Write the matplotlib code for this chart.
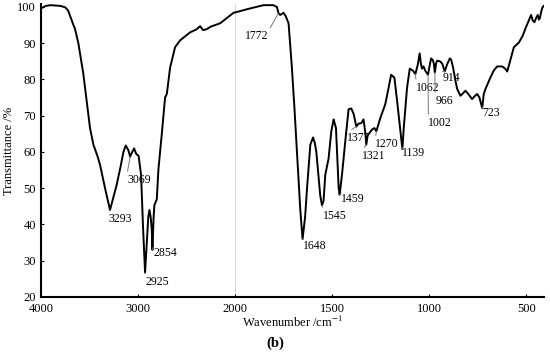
import numpy as np
import matplotlib
matplotlib.use('Agg')
import matplotlib.pyplot as plt

# FTIR spectrum
wavenumber = [4000, 3950, 3900, 3850, 3800, 3750, 3720, 3700, 3684, 3670, 3650, 3615,
              3564, 3529, 3495, 3460, 3420, 3392, 3340, 3289, 3250, 3220, 3180, 3151,
              3127, 3100, 3082, 3060, 3041, 3020, 3013, 2995, 2969, 2950, 2928, 2910,
              2895, 2883, 2870, 2859, 2852, 2840, 2832, 2807, 2790, 2756, 2722, 2704,
              2690, 2670, 2619, 2567, 2464, 2400, 2361, 2350, 2330, 2292, 2250, 2155,
              2017, 2000, 1923, 1854, 1803, 1785, 1777, 1768, 1751, 1740, 1725, 1708,
              1696, 1682, 1665, 1653, 1640, 1630, 1613, 1599, 1590, 1582, 1562, 1553,
              1545, 1536, 1519, 1505, 1493, 1481, 1467, 1462, 1450, 1433, 1416, 1402,
              1390, 1376, 1365, 1350, 1339, 1329, 1325, 1318, 1313, 1295, 1283, 1273,
              1253, 1227, 1210, 1197, 1180, 1166, 1149, 1139, 1132, 1115, 1101, 1084,
              1072, 1060, 1050, 1044, 1038, 1030, 1021, 1007, 998, 991, 982, 977,
              972, 965, 960, 945, 934, 921, 910, 895, 888, 878, 867, 857,
              840, 825, 814, 800, 780, 765, 754, 742, 728, 720, 711, 686,
              668, 651, 625, 610, 599, 585, 565, 539, 520, 505, 476, 468,
              459, 450, 442, 436, 431, 425, 419, 412]
transmittance = [99.6, 100.3, 100.5, 100.4, 100.3, 99.9, 99.0, 97.5, 96.4, 95.3, 94.0, 90.0,
                 81.6, 74.0, 66.6, 62.0, 59.0, 56.5, 50.0, 44.0, 48.0, 51.0, 56.0, 60.0,
                 61.8, 60.5, 58.7, 60.0, 61.0, 59.5, 59.3, 59.0, 53.7, 40.0, 26.7, 35.0,
                 42.0, 44.0, 42.0, 38.7, 33.0, 42.0, 45.3, 47.0, 55.4, 64.9, 75.0, 76.0,
                 79.0, 83.3, 88.9, 90.8, 93.0, 93.8, 94.7, 94.3, 93.6, 93.9, 94.6, 95.5,
                 98.4, 98.5, 99.6, 100.5, 100.5, 100.0, 98.3, 97.8, 98.4, 97.5, 95.5, 83.3,
                 73.2, 60.0, 44.3, 36.0, 42.0, 50.0, 62.0, 64.0, 62.5, 60.0, 48.0, 45.3,
                 46.5, 53.7, 58.2, 65.7, 69.0, 66.6, 50.0, 48.2, 53.7, 63.0, 71.8, 72.0,
                 70.5, 67.0, 67.8, 68.0, 69.0, 64.9, 62.0, 64.5, 64.9, 66.2, 66.6, 65.7,
                 69.3, 73.2, 77.7, 81.3, 80.5, 74.0, 65.7, 60.8, 66.6, 77.7, 83.0, 82.4,
                 81.5, 84.0, 87.2, 84.5, 83.0, 83.6, 82.4, 81.3, 84.0, 85.8, 85.3, 84.4,
                 81.9, 84.5, 85.2, 85.0, 84.4, 82.2, 84.0, 85.8, 85.5, 83.3, 80.0, 77.4,
                 75.5, 76.3, 76.9, 76.0, 74.6, 75.5, 76.0, 75.0, 72.1, 76.0, 77.4, 80.5,
                 82.5, 83.6, 83.6, 83.0, 82.2, 85.0, 88.9, 90.2, 92.0, 94.1, 97.8, 96.3,
                 95.8, 97.0, 97.8, 96.5, 96.9, 98.5, 99.7, 100.3]

peak_labels = [3293, 3069, 2925, 2854, 1772, 1648, 1545, 1459, 1377, 1321,
               1270, 1139, 1062, 1002, 966, 914, 723]
# where each label's text sits (left edge wavenumber, centre transmittance)
label_pos = [(3309, 41.5), (3113, 52.3), (2928, 24.2), (2845, 32.0), (1948, 91.9),
             (1649, 34.2), (1546, 42.3), (1454, 47.0), (1423, 63.8), (1345, 58.8),
             (1278, 62.1), (1139, 59.6), (1068, 77.7), (1005, 68.0), (969, 74.1),
             (933, 80.5), (727, 70.7)]
label_at = [3289, 3082, 2928, 2852, 1777, 1653, 1553, 1462, 1376, 1325,
            1273, 1139, 1072, 1007, 972, 921, 728]

xticks = [4000, 3000, 2000, 1500, 1000, 500]
yticks = [20, 30, 40, 50, 60, 70, 80, 90, 100]


def fwd(w):
    w = np.asarray(w, dtype=float)
    return np.where(w > 2000, 2000 + (w - 2000) / 2, w)


def inv(u):
    u = np.asarray(u, dtype=float)
    return np.where(u > 2000, 2000 + (u - 2000) * 2, u)


plt.rcParams['font.family'] = ['Liberation Serif', 'DejaVu Serif']
plt.rcParams['mathtext.fontset'] = 'stix'

fig = plt.figure(figsize=(5.5, 3.55), dpi=100)
ax = fig.add_axes([0.0745, 0.1634, 0.9145, 0.8251])
ax.set_xscale('function', functions=(fwd, inv))

wn = np.array(wavenumber)
tr = np.array(transmittance)
ax.axvline(2000, color='#d8d8d8', lw=0.8, zorder=0)
ax.plot(wn, tr, color='black', lw=1.4)

# peak labels with thin grey leaders
for lab, (tx, ty), at in zip(peak_labels, label_pos, label_at):
    yv = np.interp(at, wn[::-1], tr[::-1])
    rp = (1, 1) if lab == 1772 else (0, 1)
    ax.annotate(str(lab), xy=(at, yv), xytext=(tx, ty), textcoords='data',
                ha='left', va='center', fontsize=8.5,
                arrowprops=dict(arrowstyle='-', color='#777777', lw=0.7,
                                relpos=rp, shrinkA=0, shrinkB=0))

ax.set_xlim(4000, 410)
ax.set_ylim(20, 100.8)
ax.set_xticks(xticks)
ax.set_xticklabels([str(t) for t in xticks])
ax.set_yticks(yticks)
ax.minorticks_off()
ax.tick_params(labelsize=9, length=2.5, direction='in', width=0.8)
ax.tick_params(axis='x', pad=4)
for s in ['top', 'right']:
    ax.spines[s].set_visible(False)
for s in ['left', 'bottom']:
    ax.spines[s].set_linewidth(1.5)

ax.set_ylabel('Transmittance /%', fontsize=9, labelpad=2)
ax.set_xlabel('Wavenumber /cm$^{-1}$', fontsize=9, labelpad=0)
fig.text(0.5, 0.034, '(b)', ha='center', va='center', fontsize=10.5, fontweight='bold')

fig.savefig('out.png', dpi=100)
